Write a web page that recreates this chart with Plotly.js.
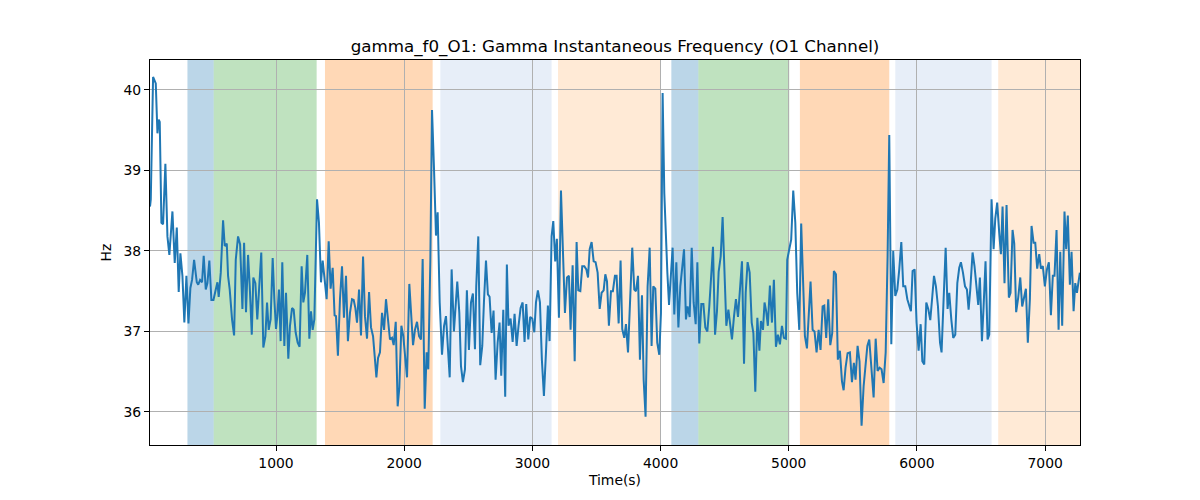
<!DOCTYPE html>
<html>
<head>
<meta charset="utf-8">
<script src="https://cdn.plot.ly/plotly-3.0.1.min.js"></script>
<style>
  html, body { margin: 0; padding: 0; background: #fff; }
  #chart { width: 1200px; height: 500px; }
</style>
</head>
<body>
<div id="chart"></div>
<script>
// time (s) and gamma instantaneous frequency (Hz)
var time = [
  17, 23, 41, 54, 62, 75, 85, 93, 106, 119, 137, 153, 168, 192, 210, 226, 241, 254, 270, 285,
  301, 317, 332, 345, 361, 382, 393, 408, 423, 436, 452, 465, 480, 496, 512, 530, 543, 553, 569, 587,
  600, 616, 626, 639, 657, 673, 686, 704, 720, 738, 751, 766, 782, 795, 811,
  823, 839, 854, 870, 885, 901, 917, 930, 943, 958, 974, 987, 1000, 1010, 1023, 1036, 1049, 1065, 1078, 1096,
  1109, 1125, 1138, 1153, 1169, 1184, 1200, 1213, 1226, 1244, 1260, 1273, 1286, 1299, 1320, 1335, 1351, 1364, 1379, 1395,
  1411, 1426, 1442, 1457, 1468, 1483, 1499, 1515, 1530, 1546, 1561, 1577, 1593,
  1606, 1619, 1632, 1648, 1663, 1679, 1694, 1710, 1726, 1741, 1757, 1770, 1783, 1796, 1811, 1827, 1843, 1858, 1874, 1889,
  1905, 1918, 1934, 1949, 1962, 1978, 1993, 2009, 2022, 2040, 2056, 2069, 2084, 2100, 2116, 2131, 2144, 2160, 2175, 2188,
  2204, 2217, 2233, 2248, 2261, 2277, 2295, 2311, 2326, 2339, 2355, 2370,
  2388, 2414, 2430, 2443, 2458, 2474, 2489, 2505, 2521, 2536, 2552, 2562, 2578, 2593, 2609, 2622, 2638, 2653, 2666, 2682,
  2697, 2713, 2729, 2744, 2757, 2773, 2788, 2801, 2814, 2830, 2846, 2861, 2877, 2892, 2908, 2924, 2939, 2952, 2968, 2983,
  2999, 3015, 3028, 3043, 3059, 3074, 3090, 3106, 3121, 3134, 3150, 3163, 3178, 3191,
  3207, 3223, 3239, 3254, 3270, 3285, 3298, 3314, 3330, 3345, 3358, 3374, 3389, 3405, 3421, 3434, 3447, 3462, 3478, 3493,
  3509, 3525, 3540, 3556, 3569, 3582, 3597, 3613, 3628, 3644, 3657, 3673, 3688, 3701, 3717, 3730, 3746, 3761, 3779, 3795,
  3808, 3824, 3839, 3855, 3868, 3883, 3899, 3915, 3930, 3943, 3959, 3974, 3990,
  4003, 4016, 4029, 4040, 4053, 4066, 4079, 4094, 4107, 4123, 4139, 4154, 4170, 4183, 4198, 4211, 4227, 4243, 4258, 4274,
  4287, 4302, 4318, 4334, 4349, 4365, 4380, 4396, 4409, 4425, 4440, 4453, 4469, 4484, 4500, 4513, 4529, 4542, 4557, 4573,
  4588, 4604, 4620, 4635, 4651, 4664, 4679, 4695, 4711, 4724, 4739, 4755, 4771, 4783, 4799,
  4811, 4824, 4837, 4853, 4869, 4884, 4900, 4915, 4931, 4947, 4962, 4978, 4988, 5004, 5019, 5035, 5051, 5066, 5082, 5097,
  5113, 5126, 5142, 5157, 5170, 5186, 5201, 5217, 5233, 5248, 5264, 5277, 5292, 5308, 5324, 5339, 5352, 5368, 5383, 5399,
  5415, 5428, 5443, 5459, 5477, 5493, 5508, 5521, 5537, 5552, 5568,
  5584, 5597, 5613, 5628, 5644, 5662, 5678, 5693, 5709, 5724, 5740, 5756, 5771, 5784, 5800, 5815, 5831, 5847, 5862, 5878,
  5893, 5909, 5925, 5938, 5953, 5966, 5982, 5997, 6013, 6029, 6042, 6057, 6073, 6088, 6104, 6120, 6133, 6148, 6164, 6180,
  6192, 6208, 6224, 6239, 6252, 6268, 6283, 6299, 6315, 6330, 6343, 6359, 6375, 6390, 6403, 6416,
  6434, 6449, 6465, 6478, 6491, 6507, 6520, 6535, 6551, 6564, 6582, 6598, 6611, 6626, 6642, 6655, 6668, 6683, 6699, 6717,
  6730, 6746, 6759, 6774, 6790, 6806, 6821, 6837, 6850, 6865, 6881, 6894, 6910, 6923, 6938, 6954, 6967, 6982, 6998, 7014,
  7029, 7045, 7060, 7073, 7089, 7105, 7118, 7133, 7151, 7164, 7177, 7193, 7206, 7222, 7235, 7248, 7261, 7271
];

var freq = [
  38.55, 38.64, 40.16, 40.10, 40.08, 39.46, 39.63, 39.60, 38.35, 38.33, 39.08, 38.18, 37.95, 38.49, 37.85, 38.29, 37.49, 37.97, 37.69, 37.11,
  37.69, 37.10, 37.54, 37.64, 37.89, 37.61, 37.58, 37.64, 37.61, 37.94, 37.52, 37.60, 37.88, 37.39, 37.39, 37.52, 37.61, 37.43, 37.73, 38.38,
  38.06, 38.09, 37.69, 37.52, 37.15, 36.95, 37.89, 38.18, 38.08, 37.28, 38.10, 37.24, 37.95, 37.56, 36.96,
  37.67, 37.60, 37.15, 37.52, 37.98, 36.80, 36.94, 37.36, 37.02, 37.15, 37.91, 37.40, 37.03, 37.19, 37.52, 36.88, 37.86, 36.82, 37.48, 36.66,
  37.07, 37.29, 37.27, 36.99, 36.86, 36.81, 37.81, 37.36, 37.48, 37.95, 36.91, 37.25, 37.02, 37.15, 38.64, 38.35, 37.61, 37.88, 37.64, 37.40,
  38.12, 37.53, 37.79, 37.20, 37.19, 36.70, 37.40, 37.81, 37.17, 37.69, 36.88, 37.23, 37.40,
  37.39, 37.29, 37.11, 37.52, 36.95, 37.93, 37.19, 36.91, 37.49, 37.05, 36.94, 36.69, 36.43, 36.67, 36.74, 37.23, 37.02, 37.40, 37.11, 36.90,
  36.92, 36.83, 37.12, 36.07, 36.30, 37.07, 36.94, 36.61, 36.43, 37.59, 37.23, 36.83, 37.02, 37.12, 36.94, 36.90, 37.90, 36.04, 36.74, 36.53,
  37.89, 39.75, 39.00, 38.19, 38.48, 37.36, 36.71, 37.07, 37.19, 36.82, 36.43, 37.77,
  37.00, 37.62, 37.23, 36.57, 36.37, 36.53, 37.51, 36.77, 37.36, 37.47, 36.78, 37.56, 38.18, 36.58, 36.82, 37.36, 37.88, 37.46, 37.43, 36.98,
  37.26, 36.40, 36.86, 37.11, 36.45, 37.27, 36.19, 37.83, 37.07, 37.16, 36.87, 37.22, 36.82, 37.07, 37.29, 37.36, 36.87, 37.34, 36.90, 37.18,
  37.16, 36.99, 37.36, 37.51, 37.36, 36.65, 36.20, 36.74, 37.32, 36.88, 38.18, 38.37, 37.87, 38.15,
  37.17, 38.75, 38.06, 37.23, 37.67, 37.69, 37.02, 37.82, 36.63, 38.11, 37.51, 37.50, 37.81, 37.81, 37.77, 37.67, 38.02, 38.11, 37.87, 37.86,
  37.73, 37.28, 37.48, 37.51, 37.71, 37.62, 37.07, 37.50, 37.50, 37.69, 37.69, 37.10, 37.88, 37.03, 36.92, 37.09, 36.74, 37.40, 38.04, 37.52,
  37.50, 37.69, 36.65, 37.45, 36.40, 35.94, 37.56, 38.04, 36.82, 37.56, 37.53, 36.86, 36.71,
  37.23, 39.96, 38.72, 38.22, 37.73, 37.33, 37.64, 38.04, 37.21, 37.86, 37.05, 37.56, 37.81, 38.02, 37.15, 37.31, 37.18, 38.04, 37.36, 37.09,
  37.86, 36.85, 37.34, 37.34, 37.05, 37.00, 37.31, 37.69, 38.05, 36.96, 37.25, 37.74, 37.93, 38.42, 37.52, 37.07, 37.27, 37.07, 36.90, 37.19,
  37.40, 37.18, 37.56, 37.87, 36.60, 37.48, 37.86, 37.73, 37.11, 36.98, 36.25, 37.17, 36.76, 37.13, 37.02,
  37.36, 37.25, 37.07, 37.57, 37.11, 37.64, 36.81, 36.96, 36.84, 37.07, 36.92, 36.91, 37.89, 38.02, 38.14, 38.75, 38.35, 37.48, 37.02, 38.34,
  37.48, 36.94, 36.79, 37.25, 37.62, 37.02, 37.00, 36.74, 37.02, 36.77, 37.31, 37.32, 36.92, 37.40, 36.83, 36.98, 37.75, 37.71, 36.65, 36.76,
  36.38, 36.27, 36.55, 36.73, 36.74, 36.37, 36.61, 36.40, 36.82, 36.63, 35.83,
  36.32, 36.57, 36.82, 36.90, 36.57, 36.18, 36.91, 36.51, 36.55, 36.53, 36.36, 36.74, 37.93, 39.44, 36.84, 38.00, 37.44, 37.52, 37.77, 38.11,
  37.56, 37.56, 37.40, 37.33, 37.25, 37.75, 37.77, 37.11, 36.76, 37.09, 36.63, 36.59, 37.36, 37.28, 37.14, 37.44, 37.69, 37.56, 37.31, 36.86,
  36.74, 37.40, 38.04, 37.28, 37.48, 37.15, 36.92, 36.96, 37.60, 37.79, 37.86, 37.73, 37.56, 37.52, 37.27, 37.52,
  37.98, 37.81, 37.48, 37.33, 37.67, 36.88, 37.31, 37.87, 36.90, 36.96, 38.64, 38.02, 38.40, 38.60, 38.22, 37.96, 38.55, 37.60, 38.57, 37.42,
  37.48, 38.26, 38.09, 37.24, 37.42, 37.67, 37.31, 37.44, 37.53, 36.86, 37.40, 38.31, 38.10, 38.10, 37.78, 37.96, 37.78, 37.81, 37.56, 37.77,
  37.86, 37.20, 37.69, 37.69, 38.26, 37.02, 37.99, 37.07, 38.49, 38.02, 38.44, 37.58, 37.99, 37.25, 37.60, 37.48, 37.61, 37.73
];

// shaded epochs
var spanStart = [309, 514, 1382, 2282, 3200, 4084, 4295, 5087, 5831, 6634];
var spanEnd   = [514, 1317, 2222, 3150, 4000, 4295, 5004, 5784, 6582, 7272];
var spanColor = [
  'rgba(31,119,180,0.3)', 'rgba(44,160,44,0.3)', 'rgba(255,127,14,0.3)',
  'rgba(174,199,232,0.3)', 'rgba(255,187,120,0.3)',
  'rgba(31,119,180,0.3)', 'rgba(44,160,44,0.3)', 'rgba(255,127,14,0.3)',
  'rgba(174,199,232,0.3)', 'rgba(255,187,120,0.3)'
];

var shapes = spanStart.map(function (s, i) {
  return {
    type: 'rect', xref: 'x', yref: 'paper',
    x0: s, x1: spanEnd[i], y0: 0, y1: 1,
    fillcolor: spanColor[i], line: { width: 0 }, layer: 'below'
  };
});

var trace = {
  x: time, y: freq, type: 'scatter', mode: 'lines',
  line: { color: '#1f77b4', width: 2 },
  hoverinfo: 'skip'
};

var axisCommon = {
  showline: true, linecolor: '#000', linewidth: 1, mirror: true,
  ticks: 'outside', ticklen: 5, tickwidth: 1, tickcolor: '#000',
  showgrid: true, gridcolor: '#b0b0b0', gridwidth: 1,
  zeroline: false,
  tickfont: { family: 'DejaVu Sans', size: 13.9, color: '#000' }
};

var layout = {
  width: 1200, height: 500,
  margin: { l: 150, r: 120, t: 60, b: 55 },
  paper_bgcolor: '#fff', plot_bgcolor: '#fff',
  font: { family: 'DejaVu Sans', color: '#000' },
  title: {
    text: 'gamma_f0_O1: Gamma Instantaneous Frequency (O1 Channel)',
    font: { family: 'DejaVu Sans', size: 16.7, color: '#000' },
    x: 0.5125, xanchor: 'center', y: 0.907, yanchor: 'middle'
  },
  xaxis: Object.assign({}, axisCommon, {
    range: [17, 7272], tickvals: [1000, 2000, 3000, 4000, 5000, 6000, 7000],
    title: { text: 'Time(s)', font: { family: 'DejaVu Sans', size: 13.9, color: '#000' }, standoff: 5 }
  }),
  yaxis: Object.assign({}, axisCommon, {
    range: [35.59, 40.37], tickvals: [36, 37, 38, 39, 40],
    title: { text: 'Hz', font: { family: 'DejaVu Sans', size: 13.9, color: '#000' }, standoff: 8 }
  }),
  shapes: shapes,
  showlegend: false
};

Plotly.newPlot('chart', [trace], layout, { displayModeBar: false, staticPlot: true });
</script>
</body>
</html>
